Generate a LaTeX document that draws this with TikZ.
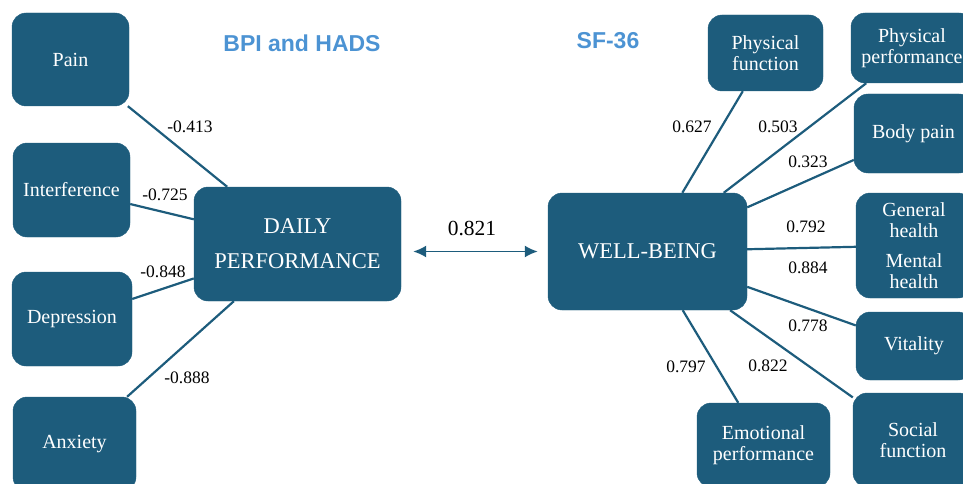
\documentclass[tikz,border=0pt]{standalone}
\usepackage{fontspec}
\setmainfont{Liberation Serif}
\newfontfamily\titlefont{Liberation Sans}
\usetikzlibrary{arrows.meta,calc}
\definecolor{boxblue}{RGB}{29,92,124}
\definecolor{titleblue}{RGB}{76,147,211}
\begin{document}
\begin{tikzpicture}[x=1pt,y=-1pt,
  box/.style={draw=boxblue,fill=boxblue,rounded corners=14pt,text=white,font=\fontsize{20}{21.5}\selectfont,align=center,inner sep=0pt},
  bigbox/.style={box,font=\fontsize{22.5}{35}\selectfont},
  conn/.style={draw=boxblue,line width=2.2pt},
  coef/.style={font=\fontsize{17.5}{20}\selectfont,inner sep=0pt},
  ttl/.style={text=titleblue,font=\titlefont\bfseries\fontsize{23}{25}\selectfont,inner sep=0pt}]
\useasboundingbox (0,0) rectangle (963,484);
\clip (0,0) rectangle (963,484);
% titles
\node[ttl] (t1) at (302,43) {BPI and HADS};
\node[ttl] (t2) at (608,41) {SF-36};
% left boxes
\node[box,minimum width=117,minimum height=93] (pain) at (70.5,59.5) {Pain};
\node[box,minimum width=117,minimum height=94] (interf) at (71.5,190) {Interference};
\node[box,minimum width=120,minimum height=94] (depr) at (72,319) {Depression};
\node[box,minimum width=123,minimum height=94] (anx) at (74.5,444) {Anxiety};
\node[bigbox,minimum width=207,minimum height=114] (daily) at (297.5,244) {DAILY\\PERFORMANCE};
% central
\node[bigbox,minimum width=199,minimum height=117] (well) at (647.5,251.5) {WELL-BEING};
% right boxes
\node[box,minimum width=115,minimum height=76] (pfun) at (765.5,53) {Physical\\function};
\node[box,minimum width=122,minimum height=70] (pperf) at (912,48) {Physical\\performance};
\node[box,minimum width=119,minimum height=79] (bpain) at (913.5,133.5) {Body pain};
\node[box,minimum width=116,minimum height=105] (genh) at (914,245.5) {General\\health\\[8pt]Mental\\health};
\node[box,minimum width=116,minimum height=68] (vital) at (914,346) {Vitality};
\node[box,minimum width=120,minimum height=94] (social) at (913,440) {Social\\function};
\node[box,minimum width=133,minimum height=84] (emot) at (763.5,445) {Emotional\\performance};
% connectors
\draw[conn] (pain) -- (daily);
\draw[conn] (interf) -- (daily);
\draw[conn] (depr) -- (daily);
\draw[conn] (anx) -- (daily);
\draw[conn] (well) -- (pfun);
\draw[conn] (well) -- (pperf);
\draw[conn] (well) -- (bpain);
\draw[conn] (well) -- (genh);
\draw[conn] (well) -- (vital);
\draw[conn] (well) -- (social);
\draw[conn] (well) -- (emot);
\draw[draw=boxblue,line width=1.8pt,{Latex[length=13pt,width=12pt]}-{Latex[length=13pt,width=12pt]}]
  ([xshift=12pt]daily.east |- well.west) -- ([xshift=-10pt]well.west);
% coefficients
\node[coef] (c1) at (190,127) {-0.413};
\node[coef] (c2) at (165,195) {-0.725};
\node[coef] (c3) at (163,272) {-0.848};
\node[coef] (c4) at (187,378) {-0.888};
\node[coef,font=\fontsize{21.5}{24}\selectfont] (c5) at (472,229) {0.821};
\node[coef] (c6) at (692,127) {0.627};
\node[coef] (c7) at (778,127) {0.503};
\node[coef] (c8) at (808,162) {0.323};
\node[coef] (c9) at (806,227) {0.792};
\node[coef] (c10) at (808,268) {0.884};
\node[coef] (c11) at (808,326) {0.778};
\node[coef] (c12) at (768,366) {0.822};
\node[coef] (c13) at (686,367) {0.797};
\end{tikzpicture}
\end{document}
